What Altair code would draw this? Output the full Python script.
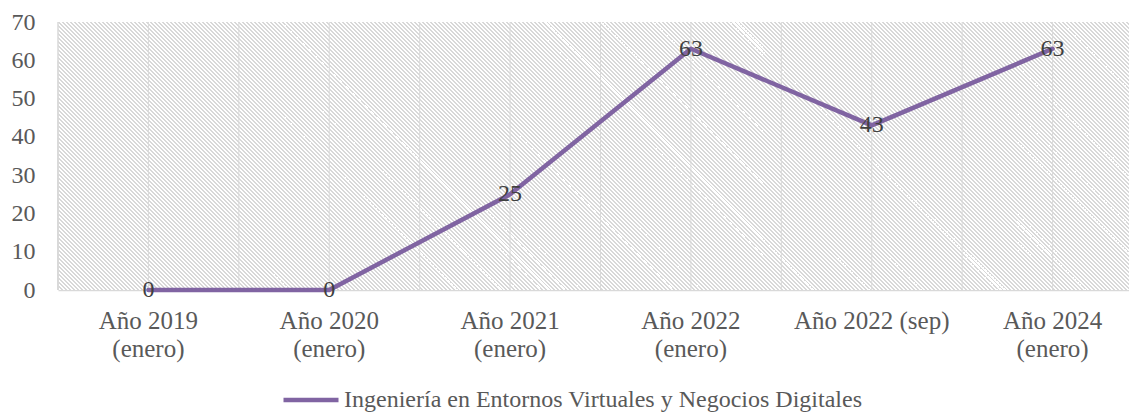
import altair as alt
import pandas as pd

# ---- data ----
categories = [
    "Año 2019\n(enero)",
    "Año 2020\n(enero)",
    "Año 2021\n(enero)",
    "Año 2022\n(enero)",
    "Año 2022 (sep)",
    "Año 2024\n(enero)",
]
values = [0, 0, 25, 63, 43, 63]
series_name = "Ingeniería en Entornos Virtuales y Negocios Digitales"
y_ticks = [0, 10, 20, 30, 40, 50, 60, 70]

# ---- layout / style ----
PAD_L = 50
VIEW_W = 1071      # keeps the svg at 1121 px (the page's content width)
BAND_W = 1085      # full category range (reference plot is cut by the window edge)
HATCH_W = 1088     # hatch rect width (multiple of the stripe period with height)
PLOT_H = 268
FONT = "Liberation Serif"
FS = 24
LINE_COLOR = "#8064A2"
GRID = "#d9d9d9"

df = pd.DataFrame({"periodo": categories, "valor": values, "serie": series_name})
grid_x = pd.DataFrame({"periodo": categories})
grid_y = pd.DataFrame({"t": y_ticks})

x_scale = alt.Scale(type="band", domain=categories, range=[0, BAND_W],
                    paddingInner=0, paddingOuter=0)
y_scale = alt.Scale(domain=[0, 70], nice=False, zero=True)

x_axis = alt.Axis(labelExpr="split(datum.label, '\\n')", labelAngle=0,
                  labelBaseline="top", labelLineHeight=28, labelPadding=18,
                  ticks=False, domain=True, domainColor=GRID, domainWidth=1.5,
                  grid=False, labelFont=FONT, labelFontSize=25,
                  labelColor="#595959", title=None)
y_axis = alt.Axis(values=y_ticks, ticks=False, domain=False, grid=False,
                  labelPadding=23, labelFont=FONT, labelFontSize=FS,
                  labelColor="#595959", title=None)

def X(**kw):
    return alt.X("periodo:N", scale=x_scale, sort=categories, axis=x_axis, **kw)

def Y(field):
    return alt.Y(field, scale=y_scale, axis=y_axis)

# hatched background: repeating diagonal stripes via a linear gradient
r = PLOT_H / HATCH_W
k = (1 + r) / (1 + r * r)
N = round((HATCH_W + PLOT_H) / 4)
duty = 0.45
stops = []
for i in range(N):
    a = i / N
    b = (i + duty) / N
    c = (i + 1) / N
    stops += [
        {"offset": a, "color": "#d8d8d8"},
        {"offset": b, "color": "#d8d8d8"},
        {"offset": b, "color": "#ffffff"},
        {"offset": c, "color": "#ffffff"},
    ]
hatch = {"gradient": "linear", "x1": 0, "y1": 1, "x2": k, "y2": 1 - k * r,
         "stops": stops}

bg = alt.Chart(pd.DataFrame({"a": [0]})).mark_rect(fill=hatch, strokeWidth=0).encode(
    x=alt.value(0), x2=alt.value(HATCH_W), y=alt.value(0), y2=alt.value(PLOT_H)
)

vrule_edges = alt.Chart(grid_x).mark_rule(color=GRID, strokeWidth=1).encode(
    x=X(bandPosition=0)
)
vrule_centers = alt.Chart(grid_x).mark_rule(color=GRID, strokeWidth=1).encode(
    x=X(bandPosition=0.5)
)
hrules = alt.Chart(grid_y).mark_rule(color=GRID, strokeWidth=1, x2=HATCH_W).encode(
    y=Y("t:Q"), x=alt.value(0)
)

line = alt.Chart(df).mark_line(strokeWidth=4.5, strokeJoin="round",
                               strokeCap="round").encode(
    x=X(),
    y=Y("valor:Q"),
    color=alt.Color(
        "serie:N",
        scale=alt.Scale(domain=[series_name], range=[LINE_COLOR]),
        legend=alt.Legend(
            title=None, orient="none", legendX=223, legendY=348,
            symbolType="stroke", symbolSize=3025, symbolStrokeWidth=4.5,
            labelFont=FONT, labelFontSize=FS, labelColor="#595959",
            labelOffset=3, padding=0, labelLimit=0,
        ),
    ),
)

labels = alt.Chart(df).mark_text(font=FONT, fontSize=FS, color="#404040",
                                 align="center", baseline="middle").encode(
    x=X(),
    y=Y("valor:Q"),
    text=alt.Text("valor:Q"),
)

chart = alt.layer(bg, vrule_edges, vrule_centers, hrules, line, labels).properties(
    width=VIEW_W,
    height=PLOT_H,
    autosize=alt.AutoSizeParams(type="none"),
    padding={"left": PAD_L, "top": 14, "right": 0, "bottom": 122},
).configure_view(stroke=None)

chart.save("out.html", embed_options={"renderer": "svg", "actions": False})
